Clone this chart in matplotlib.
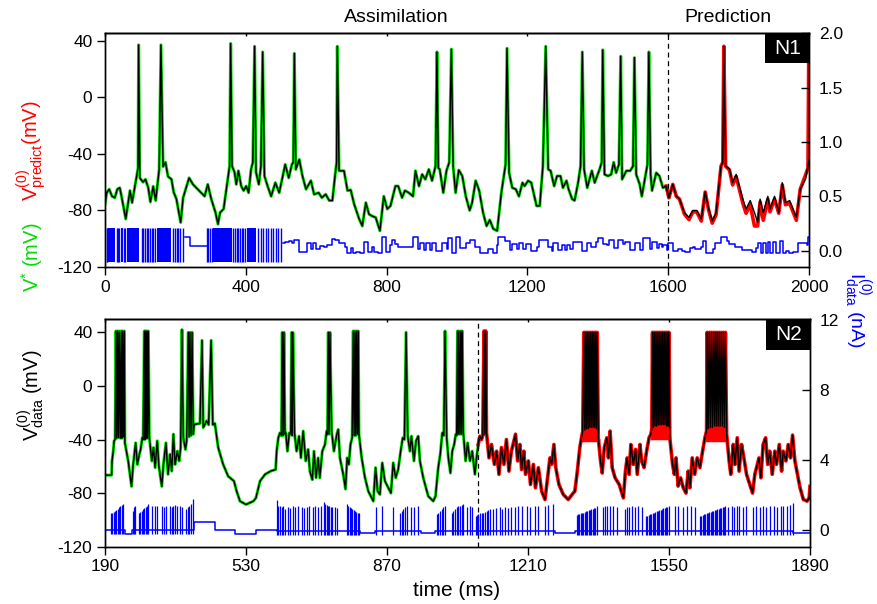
import numpy as np
import matplotlib.pyplot as plt
from matplotlib.patches import Rectangle

plt.rcParams['font.family'] = ['Liberation Sans', 'DejaVu Sans']
plt.rcParams['mathtext.fontset'] = 'custom'
plt.rcParams['mathtext.rm'] = 'Liberation Sans'
plt.rcParams['mathtext.it'] = 'Liberation Sans:italic'
plt.rcParams['mathtext.default'] = 'regular'
plt.rcParams['axes.unicode_minus'] = False

GREEN = '#00dd00'
BLUE = '#0000ff'

# ---- N1 (top): membrane voltage, data trace (t ms, mV) ----
N1_DATA = [
    (0, -75.7), (5, -67.5), (12, -65), (20, -70), (28, -71), (35, -65), (42, -64), (47, -70),
    (59, -86), (71, -66), (77, -74.5), (85, -63), (94, -50), (95.5, 37), (99, -57), (108, -60),
    (115, -58), (123, -64), (129, -74), (137, -63), (144, -73), (154, -51), (159, 37), (165, -49),
    (172, -46), (179, -56), (189, -58), (195, -67), (203, -72), (215, -88.5), (222, -71), (239, -57),
    (250, -61.6), (283, -70), (292, -61.6), (302, -72), (314, -81.5), (321, -89.7), (327, -81.5),
    (337, -79), (346, -62.8), (354, -48.7), (357, 38), (361, -48.7), (368, -53), (373, -61.6),
    (379, -52), (387, -62.8), (394, -66), (401, -62.8), (408, -67.5), (415, -51), (420, -46),
    (425, 36), (429, -53), (437, -61.6), (443, -48.7), (448, 32), (453, -55.7), (462, -62.8),
    (472, -70), (484, -60.4), (495, -67.5), (503, -58), (512, -47.5), (522, -57), (531, -47.5),
    (535, -46), (538, 31), (542, -51), (552, -44), (561, -55.7), (571, -65), (585, -59),
    (594, -68.6), (607, -67.5), (616, -71), (627, -68.6), (637, -73), (646, -73), (654, -54.5),
    (658, -46), (660, 36), (665, -52), (679, -52), (689, -66), (698, -65.5), (708, -75.7),
    (722, -86), (731, -91), (741, -74.5), (750, -82.7), (759, -84), (769, -85), (781, -94.4),
    (792, -70), (802, -79), (811, -76.8), (825, -62.8), (833, -62.8), (844, -71), (852, -66),
    (863, -67.5), (875, -70), (882, -52), (892, -62.8), (901, -54.5), (910, -58), (920, -51),
    (929, -59), (939, -48.7), (943, 32), (947, -50), (951, -51), (961, -67.5), (970, -52),
    (978, -46), (984, 34), (989, -48.7), (996, -67.5), (1005, -51.5), (1015, -55.7), (1025, -70),
    (1036, -80), (1043, -74.5), (1053, -59), (1063, -66), (1074, -81.5), (1084, -91), (1093, -86.7),
    (1103, -93), (1114, -94.4), (1126, -67.5), (1138, -47.5), (1142, 34.6), (1148, -53.4),
    (1157, -64), (1167, -65), (1176, -70), (1186, -60.4), (1192, -62.8), (1202, -59), (1211, -60.4),
    (1226, -76.8), (1235, -76.8), (1244, -48.7), (1252, 36), (1259, -51), (1266, -52), (1276, -62.8),
    (1284, -55.7), (1294, -55.7), (1301, -64), (1311, -59), (1317, -65), (1327, -72), (1334, -73),
    (1344, -60.4), (1351, -48.7), (1356, 32), (1361, -51), (1370, -64), (1383, -52), (1391, -60.4),
    (1405, -51), (1411, -46), (1414, 33.5), (1419, -54.5), (1429, -55.7), (1438, -54.5), (1445, -46),
    (1452, -53.4), (1460, -47.5), (1465, 29), (1469, -58), (1481, -52), (1492, -52), (1500, -48.7),
    (1504, 28), (1509, -54.5), (1519, -61.6), (1525, -70), (1536, -54.5), (1541, -47.5), (1545, 32),
    (1550, -54.5), (1554, -66), (1566, -53.4), (1575, -55.7), (1585, -64), (1594, -62.8), (1602, -71),
    (1613, -61.6), (1623, -70), (1632, -72), (1646, -81.5), (1659, -85), (1670, -80), (1681, -80),
    (1694, -86), (1705, -67), (1715, -79), (1725, -87.4), (1736, -81.5), (1750, -48.7), (1755, -46),
    (1758, 36), (1763, -48.7), (1774, -50.6), (1783, -60.4), (1793, -54.5), (1802, -62.8),
    (1812, -72), (1821, -79), (1833, -73), (1845, -81.5), (1854, -88.5), (1861, -72), (1870, -81.5),
    (1883, -70), (1889, -79), (1902, -70), (1914, -81.5), (1924, -60.4), (1933, -74.5), (1945, -73),
    (1964, -85), (1975, -65), (1990, -58), (2000, -44),
]

# N1 predicted voltage after the assimilation window
N1_PRED = [
    (1594, -62.8), (1602, -71), (1613, -61.6), (1623, -70), (1632, -72), (1646, -82.5), (1659, -86.5),
    (1670, -81), (1681, -81), (1694, -87.5), (1705, -67), (1715, -80), (1725, -89), (1736, -83),
    (1750, -48.7), (1755, -46), (1758, 36), (1763, -48.7), (1774, -51.5), (1783, -62), (1793, -56),
    (1802, -65), (1812, -75), (1821, -82), (1833, -76), (1845, -91), (1854, -91), (1861, -74),
    (1870, -87), (1883, -72), (1889, -81), (1902, -72), (1914, -82), (1924, -62), (1933, -76),
    (1945, -75), (1964, -87), (1975, -65), (1990, -55), (1997, -50), (2000, 60),
]

# N1 injected current (nA): fast bursts then a staircase
N1_DENSE = [(9.5, 28.4), (44.5, 52), (61.6, 97.5), (147, 186.6), (308, 360), (402.5, 429)]
N1_PULSES = [4.7, 6.6, 33.2, 37, 40.7, 54.9, 57.8, 104, 109, 113.6, 118.4, 123, 128, 132.6,
             137.3, 142, 194, 199, 203.6, 208.3, 213, 220.6, 288.8, 293.6, 298.3, 303, 364.6,
             369.3, 374, 378.8, 383.5, 388.3, 393, 397.7, 435.6, 442.3, 449.8, 456.5, 464, 470.7,
             478.2, 484.9, 492.4, 499.1]
N1_PULSE_LO, N1_PULSE_HI = -0.10, 0.21
N1_GAP = [(227, 0.13), (241.5, 0.043), (290, 0.043)]
N1_STAIRS = [
    (505, 0.068), (511.4, 0.083), (523.7, 0.092), (530.3, 0.074), (537, 0.098), (552, -0.015),
    (573, 0.074), (584.3, 0.012), (592, 0.068), (599.5, 0.012), (611, 0.043), (622, 0.037),
    (630, 0.049), (644, 0.104), (653, 0.098), (665, 0.068), (682, 0.037), (687, -0.024),
    (699, 0.022), (705.5, -0.024), (712, -0.009), (724.4, -0.024), (736.7, 0.083), (746, -0.009),
    (757.6, 0.037), (765, -0.009), (776.5, -0.024), (786, 0.129), (797.3, -0.009), (809.7, 0.052),
    (816, 0.098), (824, 0.062), (831.4, 0.037), (876, 0.123), (888, 0.012), (895, 0.074),
    (907, 0.006), (911, 0.068), (923, 0.006), (928, 0.074), (940, 0.0), (958, 0.074), (971, 0.012),
    (975.4, 0.114), (987, -0.024), (997, 0.129), (1008.5, 0.022), (1024.6, 0.068), (1037, 0.098),
    (1051, 0.037), (1065, -0.024), (1089, 0.012), (1103, -0.024), (1113, 0.052), (1117.4, 0.129),
    (1136, 0.092), (1150.6, 0.006), (1155, 0.062), (1169.5, 0.012), (1176, 0.068), (1188, 0.012),
    (1195, 0.062), (1210, 0.0), (1226, 0.037), (1233, 0.098), (1259.5, 0.037), (1269, 0.0),
    (1274, 0.068), (1288, 0.006), (1297, 0.052), (1307, 0.006), (1311.6, 0.052), (1321, 0.012),
    (1330.5, 0.083), (1354, 0.0), (1368, 0.074), (1380, 0.037), (1395, 0.083), (1401.5, 0.114),
    (1414, 0.062), (1427, 0.052), (1433, 0.098), (1446, 0.022), (1458, 0.098), (1472.5, 0.062),
    (1477, 0.083), (1491.5, 0.006), (1505.7, 0.068), (1520, 0.006), (1527.4, 0.114), (1548, 0.012),
    (1553, 0.083), (1567, 0.022), (1575, 0.062), (1581, 0.031), (1586, 0.052), (1595.6, 0.006),
    (1600, 0.068), (1614.6, 0.0), (1629, 0.012), (1638, 0.0), (1648, -0.009), (1662, 0.022),
    (1669.5, 0.037), (1676, 0.012), (1692, 0.037), (1698, 0.092), (1707, -0.024), (1726, 0.012),
    (1733, 0.068), (1749, 0.123), (1766, 0.092), (1774, 0.062), (1790, 0.031), (1809, 0.006),
    (1837, -0.009), (1849, 0.022), (1856, 0.068), (1862.7, -0.018), (1868, 0.068), (1878, -0.018),
    (1884.5, 0.083), (1889, -0.024), (1898.7, 0.083), (1906, -0.018), (1917.6, 0.092),
    (1925, -0.024), (1934.7, 0.0), (1944, -0.024), (1955.5, -0.009), (1969.7, 0.068),
    (1995, 0.052), (1998, 0.123), (2000, 0.123),
]

# ---- N2 (bottom): membrane voltage, data trace (t ms, mV) ----
N2_DATA = [
    (190, -66.6), (206, -66.6), (207, -56), (210, -48.7), (212, -41), (214.5, -40), (216.5, 41),
    (218.5, -39), (220.5, 41), (222.5, -38.5), (224.5, 41), (227, -39), (229.3, 41), (231, -39),
    (232.5, 41), (234.5, -38), (236.6, 41), (238, -42.5), (246, -56), (254, -75), (258, -58.6),
    (264, -42.5), (268, -58.6), (273, -51), (276, -47.4), (280, -38.7), (282, -40), (285, 41),
    (286.5, -40), (288, 41), (289.5, -39), (291, 41), (292.7, -39), (294.5, 41), (297, -38.7),
    (303, -56), (307, -46), (311, -61), (316, -41), (320, -60), (327, -75), (331, -58.6),
    (337, -42.5), (342, -66), (347, -51), (351, -63.6), (355, -36), (359, -58.6), (364.5, -48.7),
    (369, -56), (372.5, -46), (375.6, 42), (379, -38.7), (384, -47.4), (387, -41), (391, 40),
    (393, -38), (395, 40), (397.5, -37), (400, 40), (403, -36), (405, -28.7), (419, -28), (424, 34),
    (427, -31), (429, -30), (435, -26), (440, -29), (446, 34), (450, -29), (455, -28), (463, -46),
    (475, -58.6), (487, -67.4), (501, -71), (507.5, -78.6), (515.5, -86), (530, -88.5), (548, -86),
    (554, -83.6), (564, -71), (576, -66), (589.5, -63.6), (601.5, -62.4), (604, -48.7), (608, -38.7),
    (612, -35), (615.5, -37), (617.5, 40), (619.5, -37), (621.5, 40), (624, -36), (626, -35),
    (630, -48.7), (634.5, -35), (638, -36), (640, 40), (641.5, -37), (643, 40), (647, -35),
    (652, -48.7), (658, -37.5), (662.5, -53.7), (668, -33.7), (674, -56), (680, -47.4), (684, -63.6),
    (690, -70), (694, -48.7), (699, -68.6), (704, -53.7), (708, -68.6), (714, -48.7), (720.5, -43.7),
    (724.5, -33.7), (726.5, -36), (728.5, 40), (730.5, -36), (732.5, 40), (736.5, -33.7),
    (742, -48.7), (749, -36), (752.5, -32.5), (756.5, -53.7), (764.5, -66), (770, -77), (774, -53.7),
    (778, -58.6), (782, -43.7), (786, -38.7), (788.7, 41), (790.7, -37), (792.7, 41), (794.7, -37),
    (796.7, 41), (798.7, -36), (800.8, 41), (802.4, -36), (809, -53.7), (817, -68.6), (825, -78.6),
    (837, -86), (842.5, -61), (847.4, -78.6), (853, -81), (858.6, -57.4), (865, -71), (873, -76),
    (879.5, -80), (885, -57.4), (891, -68.6), (897, -62.4), (903, -48.7), (908, -38.7), (912, -40),
    (916, 40), (920, -37.5), (925.3, -48.7), (929, -37.5), (935, -56), (940, -41), (945.4, -37.5),
    (949.4, -56), (957.5, -68.6), (969.5, -82.3), (981.6, -86), (987, -82.3), (993.6, -61),
    (998.5, -51), (1003.3, -35), (1007, -37), (1010, 41), (1014, -38.7), (1018, -53.7), (1023, -65),
    (1027.4, -48.7), (1032, -43.7), (1036, -36), (1038, -37), (1040, 41), (1041.7, -36),
    (1043.5, 41), (1045.7, -36), (1048, 41), (1049.7, -36), (1051.5, 41), (1054, -35),
    (1059.6, -56), (1064.4, -42.5), (1070, -56), (1075.6, -48.7), (1082, -66), (1086, -53.7),
    (1090, -43.7), (1094, -37.5), (1098, -40), (1101, -37), (1104, 41), (1106, -36), (1108, 41),
    (1110, -35), (1116, -53.7), (1122, -43.7), (1129, -58.6), (1134.3, -48.7), (1140, -66),
    (1146, -46), (1152, -58.6), (1158, -40), (1164, -63.6), (1170, -48.7), (1176, -41), (1180, -36),
    (1185, -56), (1190.5, -43.7), (1194.6, -62.4), (1200, -48.7), (1204, -66), (1211, -56),
    (1216, -73.6), (1223, -58.6), (1228, -76), (1235, -61), (1243, -78.6), (1251, -84.8),
    (1259, -63.6), (1263, -53.7), (1267, -58.6), (1272.5, -43.7), (1277, -61), (1284.6, -73.6),
    (1295, -81), (1307, -84.8), (1319, -80), (1323, -78.6), (1329, -63.6), (1335, -46),
    (1339, -38.7), (1342, -34), (1345, 40), (1347, -33), (1349, 40), (1351, -32), (1353, 40),
    (1355, -32), (1357, 40), (1359, -31), (1361, 40), (1363, -31), (1365, 40), (1367, -31),
    (1369, 40), (1371, -31), (1373, 40), (1375, -32), (1377, 40), (1379.5, -38.7), (1385, -56),
    (1389, -65), (1394, -46), (1400, -38.7), (1404, -53.7), (1408, -33.7), (1413, -61),
    (1420, -68.6), (1430, -73.6), (1440, -83.6), (1445, -63.6), (1449, -53.7), (1454, -66),
    (1458, -43.7), (1464, -58.6), (1469.5, -47.4), (1473.5, -66), (1480, -43.7), (1484, -56),
    (1490, -61), (1496, -48.7), (1502, -38.7), (1506.4, -36), (1508.5, -32), (1510.4, 40),
    (1512.4, -31), (1514.4, 40), (1516.4, -30), (1518.5, 40), (1520.5, -30), (1522.5, 40),
    (1524.5, -29), (1526.5, 40), (1528.5, -29), (1530.5, 40), (1532.5, -29), (1534.5, 40),
    (1536.5, -29), (1538.5, 40), (1540.5, -29), (1542.6, 40), (1544.6, -30), (1546.6, 40),
    (1548.2, -30), (1549.8, 40), (1552, -38.7), (1558.6, -58.6), (1563, -66), (1567, -53.7),
    (1572, -74.8), (1578, -68.6), (1584.4, -76), (1591, -80), (1596.4, -63.6), (1600.5, -76),
    (1606, -53.7), (1612, -66), (1618, -53.7), (1624.5, -61), (1631, -48.7), (1636.6, -38.7),
    (1640.6, -33.7), (1642, 40), (1644.5, -32), (1647, 40), (1649.5, -31), (1652, 40),
    (1654.5, -31), (1657, 40), (1659.3, -30), (1661.5, 40), (1663.8, -30), (1666, 40),
    (1668.5, -30), (1671, 40), (1673.5, -30), (1676, 40), (1678.5, -30), (1681, 40), (1683.5, -31),
    (1686, 40), (1689, -36), (1695, -56), (1699, -66), (1705, -43.7), (1709, -58.6), (1714.6, -38.7),
    (1719, -63.6), (1725, -43.7), (1730.6, -53.7), (1737, -66), (1745, -73.6), (1751.5, -80),
    (1757, -66), (1761, -61), (1767, -53.7), (1771.6, -68.6), (1777, -43.7), (1783, -38.7),
    (1788, -58.6), (1793, -48.7), (1799, -66), (1805, -48.7), (1809.4, -58.6), (1816, -43.7),
    (1821.5, -63.6), (1825.5, -48.7), (1832, -56), (1837.5, -43.7), (1843, -53.7), (1848, -36.7),
    (1853.6, -56), (1866, -76), (1874, -84.8), (1883, -86), (1888, -83.6), (1890, -75),
]

# N2 predicted bursts: spike times, burst base level (mV), spike peak (mV)
N2_RED_SPIKES = [
    1343.5, 1346, 1348.5, 1351, 1353.5, 1356, 1358.5, 1361, 1363.5, 1366, 1368.5, 1371, 1373.5, 1376,
    1509, 1511.5, 1514, 1516.5, 1519, 1521.5, 1524, 1526.5, 1529, 1531.5, 1534, 1536.5, 1539, 1541.5,
    1544, 1546.5, 1549,
    1641, 1643, 1645, 1647, 1649, 1651, 1653, 1655, 1657, 1659, 1661, 1663, 1665, 1667, 1669, 1671,
    1673, 1675, 1677, 1679, 1681, 1683, 1685, 1687,
]
N2_RED_BURSTS = [(1342, 1378, -40), (1508, 1551, -39), (1640, 1688, -40)]
N2_RED_PEAK = 39

# N2 injected current (nA): baseline staircase and pulses (t, height)
N2_BASE = [
    (190, 0.02), (238, -0.2), (256, 0.0), (405, 0.45), (455, 0.02), (503.5, -0.21), (554, 0.02),
    (604, -0.05), (805, -0.18), (842, -0.08), (953, -0.18), (986, -0.08), (1275, -0.18),
    (1323, -0.08), (1850, -0.18), (1890, -0.18),
]
N2_PULSES = [
    (204.4, 0.95), (207.6, 1.0), (210.9, 1.05), (214.1, 1.1), (217.3, 1.15), (220.5, 1.2),
    (223.7, 1.3), (227, 1.35), (231, 1.45), (234.2, 1.5), (256.7, 1.1), (260, 1.3), (263, 1.35),
    (272, 1.0), (275, 1.05), (278.4, 1.1), (281.6, 1.2), (284.8, 1.25), (288, 1.3), (291.2, 1.4),
    (294.4, 1.5), (302.5, 1.4), (310.5, 1.4), (316, 1.4), (326.6, 1.4), (333, 1.3), (337, 1.4),
    (346.7, 1.35), (350.7, 1.3), (354.7, 1.4), (358.7, 1.45), (364.4, 1.35), (370.8, 1.4),
    (374.8, 1.3), (385.3, 1.2), (389.3, 1.3), (393.3, 1.4), (396.5, 1.5), (401.3, 1.75),
    (604, 1.7), (608, 1.4), (612, 1.35), (616, 1.3), (620, 1.35), (624, 1.2), (632, 1.3),
    (636, 1.25), (644, 1.35), (648, 1.3), (656, 1.35), (664, 1.3), (670, 1.25), (676, 1.3),
    (682.6, 1.35), (690.7, 1.3), (696.3, 1.35), (704.3, 1.3), (710, 1.4), (718, 1.6), (721, 1.5),
    (724.4, 1.45), (727.6, 1.4), (730.8, 1.35), (734, 1.3), (737, 1.3), (744.5, 1.3), (750, 1.25),
    (772.6, 1.5), (776.6, 1.4), (780, 1.3), (783, 1.25), (786.3, 1.2), (789.5, 1.15), (792.7, 1.1),
    (796, 1.05), (799, 1.0), (802.4, 1.0), (842.5, 1.3), (858.6, 1.4), (885, 1.3), (901, 1.0),
    (905, 1.1), (909, 1.2), (913.3, 1.3), (917.3, 1.4), (927.7, 1.3), (936, 1.3), (945.4, 1.4),
    (989.6, 0.9), (993.6, 1.0), (997.7, 1.1), (1001.7, 1.2), (1005.7, 1.3), (1009.7, 1.4),
    (1025.8, 1.0), (1030, 1.1), (1034, 1.2), (1038, 1.3), (1042, 1.35), (1046, 1.4), (1050, 1.45),
    (1054, 1.5), (1062, 1.3), (1070, 1.35), (1075.6, 1.3), (1084, 0.8), (1087, 0.85), (1090, 0.9),
    (1094, 0.95), (1098, 1.0), (1102, 1.0), (1106, 1.05), (1110, 1.1), (1114, 1.15), (1118, 1.2),
    (1126, 1.2), (1134, 1.25), (1142.4, 1.3), (1148, 1.2), (1154.4, 1.3), (1161, 1.25),
    (1169, 1.3), (1178.5, 1.3), (1185, 1.4), (1195, 1.35), (1207, 1.4), (1215, 1.3), (1227, 1.4),
    (1235, 1.35), (1251, 1.4), (1259, 1.45), (1271, 1.5), (1327, 0.85), (1330.4, 0.9),
    (1333.6, 0.92), (1337, 0.95), (1340, 0.98), (1343.3, 1.0), (1346.5, 1.03), (1349.7, 1.06),
    (1353, 1.1), (1356, 1.12), (1359.3, 1.15), (1362.5, 1.18), (1365.8, 1.2), (1369, 1.25),
    (1372, 1.28), (1375.4, 1.35), (1390, 1.3), (1395.5, 1.35), (1401, 1.4), (1407.5, 1.35),
    (1414, 1.4), (1423.6, 1.3), (1443.7, 1.2), (1449.3, 1.3), (1454, 1.3), (1460, 1.35),
    (1468, 1.3), (1476, 1.35), (1484, 1.3), (1494.3, 0.8), (1497.5, 0.83), (1500.8, 0.86),
    (1504, 0.9), (1507, 0.93), (1510.4, 0.96), (1513.6, 1.0), (1516.8, 1.03), (1520, 1.06),
    (1523.3, 1.1), (1526.5, 1.13), (1529.7, 1.16), (1533, 1.2), (1536.2, 1.23), (1539.4, 1.26),
    (1542.6, 1.3), (1545.8, 1.33), (1549, 1.37), (1564, 1.35), (1572, 1.4), (1584.4, 1.3),
    (1592.4, 1.4), (1602, 1.35), (1612.5, 1.3), (1624.5, 0.8), (1627.7, 0.83), (1630.9, 0.86),
    (1634.1, 0.89), (1637.4, 0.92), (1640.6, 0.95), (1643.8, 0.98), (1647, 1.01), (1650.3, 1.04),
    (1653.5, 1.07), (1656.7, 1.1), (1659.9, 1.13), (1663.1, 1.16), (1666.4, 1.19), (1669.6, 1.22),
    (1672.8, 1.25), (1676, 1.28), (1679.2, 1.31), (1682.4, 1.34), (1685.6, 1.37), (1693, 1.3),
    (1701, 1.35), (1707, 1.3), (1713, 1.4), (1719, 1.35), (1729, 1.3), (1735.5, 1.4), (1751.5, 1.3),
    (1761, 1.35), (1769, 1.3), (1777, 1.4), (1785, 1.3), (1793, 1.35), (1803, 1.4), (1811, 1.3),
    (1819, 1.35), (1825.5, 1.4), (1833.5, 1.35), (1841.5, 1.45), (1848, 1.55), (1890, 0.7),
]
N2_DIP = 0.22

N1_SPLIT = 1600
N2_SPLIT = 1090


def arr(pairs):
    a = np.array(pairs, dtype=float)
    return a[:, 0], a[:, 1]


def style(ax, axr, xticks, yticks, rticks, rlabels):
    for a in (ax, axr):
        for s in a.spines.values():
            s.set_linewidth(1.0)
    ax.set_xticks(xticks)
    ax.set_yticks(yticks)
    ax.tick_params(direction='out', length=6, width=1, labelsize=12.5, pad=3)
    axr.set_yticks(rticks)
    axr.set_yticklabels(rlabels)
    axr.tick_params(direction='in', length=5.5, width=1, labelsize=12.5, pad=7)
    top = ax.secondary_xaxis('top')
    top.set_xticks(xticks)
    top.tick_params(direction='in', length=2.5, width=1, labeltop=False)
    for s in top.spines.values():
        s.set_linewidth(1.0)


def tag(ax, text, h):
    ax.add_patch(Rectangle((0.938, 1 - h), 0.062, h, transform=ax.transAxes,
                           fc='black', ec='none', clip_on=False, zorder=10))
    ax.text(0.969, 1 - h / 2, text, transform=ax.transAxes, ha='center', va='center',
            color='white', fontsize=15, zorder=11)


fig = plt.figure(figsize=(8.77, 6.04), dpi=100)

# ---------------- top panel ----------------
ax1 = fig.add_axes([0.1197, 0.5579, 0.8028, 0.387])
t, v = arr(N1_DATA)
keep = t <= N1_SPLIT + 2
ax1.plot(t[keep], v[keep], color=GREEN, lw=2.2)
tp, vp = arr(N1_PRED)
ax1.plot(tp, vp, color='red', lw=2.6)
ax1.plot(t, v, color='black', lw=1.0)
ax1.axvline(N1_SPLIT, color='black', lw=0.9, ls=(0, (4, 3)))
ax1.set_xlim(0, 2000)
ax1.set_ylim(-120, 45.2)

ax1r = ax1.twinx()
for s, e in N1_DENSE:
    ax1r.fill_between([s, e], N1_PULSE_LO, N1_PULSE_HI, color=BLUE, lw=0)
ax1r.vlines(N1_PULSES, N1_PULSE_LO, N1_PULSE_HI, color=BLUE, lw=1.0)
gt, gv = arr(N1_GAP)
ax1r.step(gt, gv, where='post', color=BLUE, lw=1.1)
st, sv = arr(N1_STAIRS)
ax1r.step(st, sv, where='post', color=BLUE, lw=1.1)
ax1r.set_ylim(-0.15, 2.0)

style(ax1, ax1r, range(0, 2001, 400), range(-120, 41, 40),
      [0, 0.5, 1.0, 1.5, 2.0], ['0.0', '0.5', '1.0', '1.5', '2.0'])
tag(ax1r, 'N1', 0.128)

# ---------------- bottom panel ----------------
ax2 = fig.add_axes([0.1197, 0.0949, 0.8039, 0.377])
t, v = arr(N2_DATA)
keep = t <= N2_SPLIT + 1
ax2.plot(t[keep], v[keep], color=GREEN, lw=2.2)
late = t >= N2_SPLIT - 1
ax2.plot(t[late], v[late], color='red', lw=2.6)
for s, e, base in N2_RED_BURSTS:
    ax2.plot([s, e], [base, base], color='red', lw=2.5)
    spk = [x for x in N2_RED_SPIKES if s <= x <= e]
    ax2.vlines(spk, base, N2_RED_PEAK, color='red', lw=1.6)
ax2.plot(t, v, color='black', lw=1.0)
ax2.axvline(N2_SPLIT, color='black', lw=0.9, ls=(0, (4, 3)))
ax2.set_xlim(190, 1890)
ax2.set_ylim(-120, 50)

ax2r = ax2.twinx()
bt, bv = arr(N2_BASE)
ax2r.step(bt, bv, where='post', color=BLUE, lw=1.1)
pt, ph = arr(N2_PULSES)
idx = np.searchsorted(bt, pt, side='right') - 1
ax2r.vlines(pt, bv[idx] - N2_DIP, ph, color=BLUE, lw=0.9)
ax2r.set_ylim(-0.95, 12.05)

style(ax2, ax2r, [190, 530, 870, 1210, 1550, 1890], range(-120, 41, 40),
      [0, 4, 8, 12], ['0', '4', '8', '12'])
tag(ax2r, 'N2', 0.136)

# ---------------- labels ----------------
fig.text(396 / 877, 1 - 18 / 604, 'Assimilation', ha='center', va='center', fontsize=14)
fig.text(728 / 877, 1 - 18 / 604, 'Prediction', ha='center', va='center', fontsize=14)
fig.text(0.521, 0.022, 'time (ms)', ha='center', va='center', fontsize=15)
fig.text(0.036, 1 - 151 / 604, r'$V^{(0)}_{predict}$(mV)', rotation=90,
         ha='center', va='center', fontsize=14.5, color='red')
fig.text(0.036, 1 - 257 / 604, r'$V^{*}$ (mV)', rotation=90,
         ha='center', va='center', fontsize=14.5, color=GREEN)
fig.text(0.036, 1 - 395 / 604, r'$V^{(0)}_{data}$ (mV)', rotation=90,
         ha='center', va='center', fontsize=14.5, color='black')
fig.text(0.977, 1 - 310 / 604, r'$I^{(0)}_{data}$ (nA)', rotation=-90,
         ha='center', va='center', fontsize=14, color=BLUE)

fig.savefig('out.png', dpi=100)
